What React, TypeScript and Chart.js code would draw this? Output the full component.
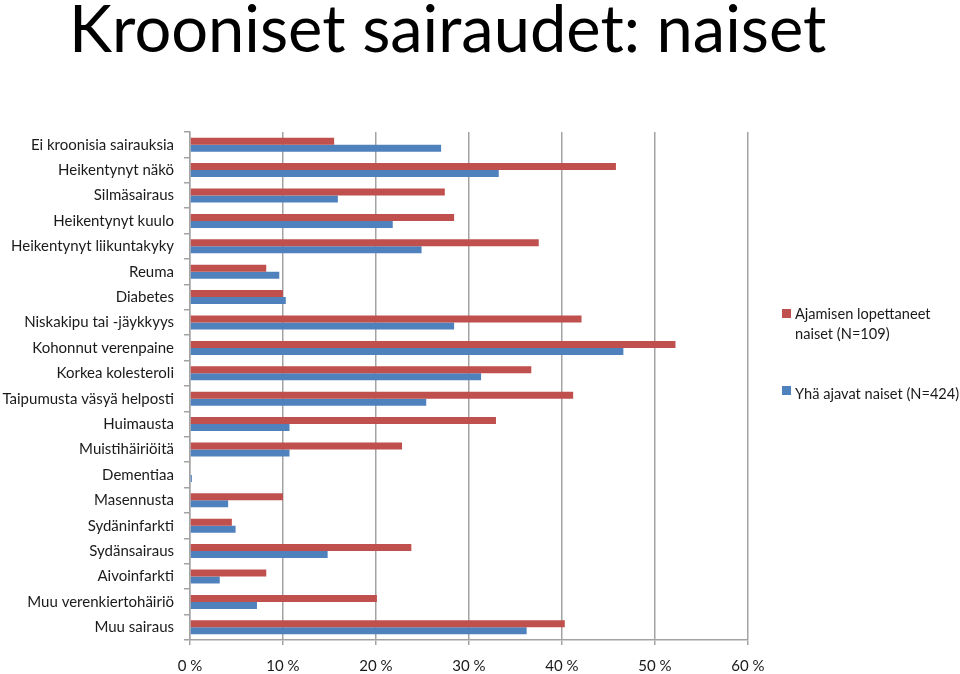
import React, { useEffect, useRef } from "react";
import { Chart, registerables } from "chart.js";

Chart.register(...registerables);

const categories: string[] = [
  "Ei kroonisia sairauksia",
  "Heikentynyt näkö",
  "Silmäsairaus",
  "Heikentynyt kuulo",
  "Heikentynyt liikuntakyky",
  "Reuma",
  "Diabetes",
  "Niskakipu tai -jäykkyys",
  "Kohonnut verenpaine",
  "Korkea kolesteroli",
  "Taipumusta väsyä helposti",
  "Huimausta",
  "Muistihäiriöitä",
  "Dementiaa",
  "Masennusta",
  "Sydäninfarkti",
  "Sydänsairaus",
  "Aivoinfarkti",
  "Muu verenkiertohäiriö",
  "Muu sairaus",
];

const seriesStopped: number[] = [
  15.5, 45.8, 27.4, 28.4, 37.5, 8.2, 10.0, 42.1, 52.2, 36.7, 41.2, 32.9, 22.8, 0,
  10.0, 4.5, 23.8, 8.2, 20.1, 40.3,
];

const seriesDriving: number[] = [
  27.0, 33.2, 15.9, 21.8, 24.9, 9.6, 10.3, 28.4, 46.6, 31.3, 25.4, 10.7, 10.7, 0.2,
  4.1, 4.9, 14.8, 3.2, 7.2, 36.2,
];

const seriesNames: string[] = [
  "Ajamisen lopettaneet naiset (N=109)",
  "Yhä ajavat naiset (N=424)",
];

const xTicks: number[] = [0, 10, 20, 30, 40, 50, 60];

const RED = "#C0504D";
const BLUE = "#4F81BD";
const GRID = "#a3a3a3";
const FONT = "Lato";

export default function App() {
  const canvasRef = useRef<HTMLCanvasElement | null>(null);

  useEffect(() => {
    const canvas = canvasRef.current;
    if (!canvas) return;
    const chart = new Chart(canvas, {
      type: "bar",
      data: {
        labels: categories,
        datasets: [
          {
            label: seriesNames[0],
            data: seriesStopped,
            backgroundColor: RED,
            categoryPercentage: 0.55,
            barPercentage: 1.0,
          },
          {
            label: seriesNames[1],
            data: seriesDriving,
            backgroundColor: BLUE,
            categoryPercentage: 0.55,
            barPercentage: 1.0,
          },
        ],
      },
      options: {
        indexAxis: "y",
        responsive: false,
        animation: false,
        devicePixelRatio: 1,
        layout: { padding: { left: 0, top: 132, right: 212, bottom: 0 } },
        plugins: {
          legend: { display: false },
          tooltip: { enabled: false },
          title: { display: false },
        },
        scales: {
          x: {
            type: "linear",
            min: xTicks[0],
            max: xTicks[xTicks.length - 1],
            afterBuildTicks: (s: any) => {
              s.ticks = xTicks.map((v) => ({ value: v }));
            },
            afterFit: (s: any) => {
              s.height = 34;
            },
            grid: { color: GRID, lineWidth: 1.5, tickLength: 5 },
            border: { color: GRID, width: 1.5 },
            ticks: {
              callback: (v: any) => `${v} %`,
              font: { family: FONT, size: 15 },
              color: "#1a1a1a",
              padding: 12,
              maxRotation: 0,
            },
          },
          y: {
            type: "category",
            afterFit: (s: any) => {
              s.width = 190;
            },
            grid: {
              drawOnChartArea: false,
              offset: true,
              tickLength: 6,
              color: GRID,
              lineWidth: 1.5,
            },
            border: { color: GRID, width: 1.5 },
            ticks: {
              autoSkip: false,
              font: { family: FONT, size: 15 },
              color: "#1a1a1a",
              padding: 10,
            },
          },
        },
      },
    });
    return () => chart.destroy();
  }, []);

  const legendText: React.CSSProperties = {
    position: "absolute",
    left: 795,
    fontFamily: FONT,
    fontSize: 14.6,
    lineHeight: "20px",
    color: "#1a1a1a",
    whiteSpace: "nowrap",
  };

  return (
    <div
      style={{
        position: "absolute",
        left: 0,
        top: 0,
        width: 960,
        height: 674,
        background: "#fff",
        overflow: "hidden",
      }}
    >
      <div
        style={{
          position: "absolute",
          left: 69,
          top: -11,
          fontFamily: FONT,
          fontSize: 65,
          lineHeight: "76px",
          color: "#000",
          whiteSpace: "nowrap",
        }}
      >
        Krooniset sairaudet: naiset
      </div>
      <canvas
        ref={canvasRef}
        width={960}
        height={674}
        style={{ position: "absolute", left: 0, top: 0, width: 960, height: 674 }}
      />
      <div style={{ position: "absolute", left: 782, top: 309, width: 9, height: 9, background: RED }} />
      <div style={{ ...legendText, top: 304 }}>
        Ajamisen lopettaneet
        <br />
        naiset (N=109)
      </div>
      <div style={{ position: "absolute", left: 782, top: 386, width: 9, height: 9, background: BLUE }} />
      <div style={{ ...legendText, top: 384 }}>{seriesNames[1]}</div>
    </div>
  );
}
